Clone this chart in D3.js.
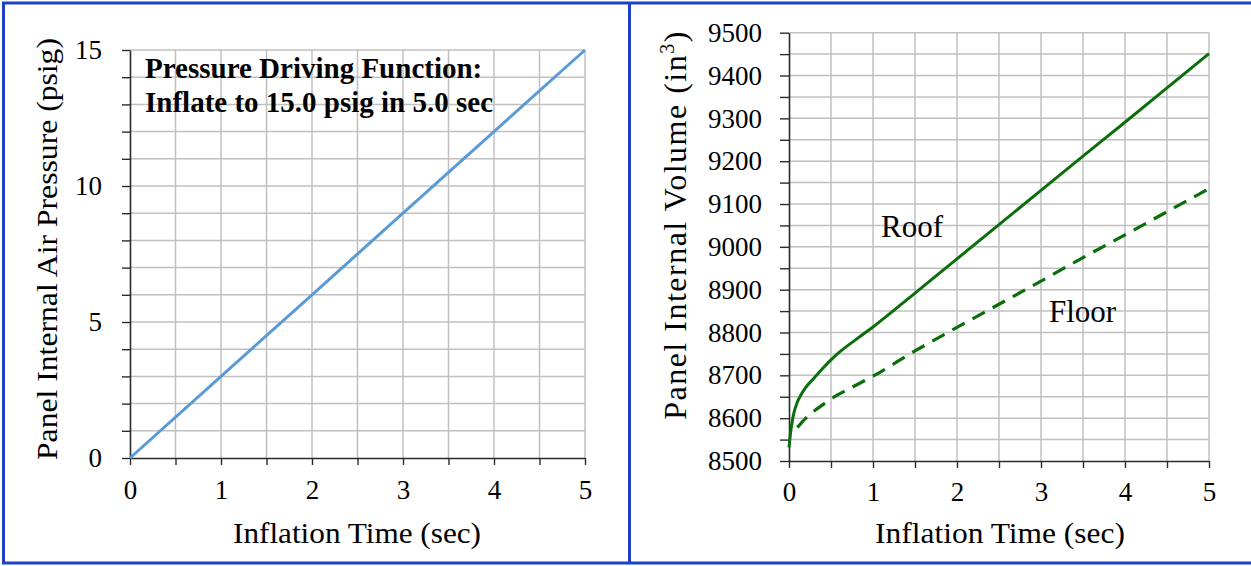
<!DOCTYPE html>
<html>
<head>
<meta charset="utf-8">
<script src="https://cdn.jsdelivr.net/npm/d3@7"></script>
<style>
  html, body { margin: 0; padding: 0; background: #fff; }
  svg { display: block; }
</style>
</head>
<body>
<svg id="chart" width="1251" height="566"></svg>
<script>
// ---- Data ----
// Pressure driving function (left panel)
const pressureTime = [0, 1, 2, 3, 4, 5];
const pressurePsig = [0, 3, 6, 9, 12, 15];

// Panel internal volume (right panel)
const roofTime   = [0, 0.02, 0.05, 0.1, 0.15, 0.2, 0.3, 0.4, 0.5, 0.6, 0.8, 1.0, 1.5, 2.0, 2.5, 3.0, 3.5, 4.0, 4.5, 5.0];
const roofVolume = [8532, 8568, 8605, 8638, 8657, 8672, 8694, 8716, 8736, 8754, 8784, 8813, 8892, 8972, 9052, 9132, 9212, 9291, 9371, 9451];
const floorTime   = [0.1, 0.2, 0.3, 0.4, 0.5, 0.75, 1.0, 1.5, 2.0, 2.5, 3.0, 3.5, 4.0, 4.5, 5.0];
const floorVolume = [8578, 8600, 8617, 8631, 8645, 8672, 8698, 8757, 8812, 8866, 8920, 8975, 9028, 9082, 9136];

// Axis ticks
const timeTicks = [0, 0.5, 1, 1.5, 2, 2.5, 3, 3.5, 4, 4.5, 5];
const pressureTicks = d3.range(0, 16, 1);
const volumeTicks = d3.range(8500, 9501, 50);

const SERIF = "'Liberation Serif', 'Times New Roman', serif";
const svg = d3.select("#chart");
const GRID = "#c0c0c0";
const AXIS = "#2b2b2b";

// ---- Outer frame ----
svg.append("rect")
  .attr("x", 3.5).attr("y", 3).attr("width", 1260).attr("height", 560)
  .attr("fill", "none").attr("stroke", "#1f3fc4").attr("stroke-width", 3);
svg.append("line")
  .attr("x1", 629.5).attr("x2", 629.5).attr("y1", 3).attr("y2", 563)
  .attr("stroke", "#1f3fc4").attr("stroke-width", 3);

function drawGrid(g, x, y, xt, yt) {
  const [x0, x1] = x.range();
  const [y0, y1] = y.range();
  g.append("g").selectAll("line").data(xt.filter(d => d > 0)).join("line")
    .attr("x1", d => x(d)).attr("x2", d => x(d))
    .attr("y1", y0).attr("y2", y1)
    .attr("stroke", GRID).attr("stroke-width", 1.5);
  g.append("g").selectAll("line").data(yt.filter(d => d > y.domain()[0])).join("line")
    .attr("x1", x0).attr("x2", x1)
    .attr("y1", d => y(d)).attr("y2", d => y(d))
    .attr("stroke", GRID).attr("stroke-width", 1.5);
}

function styleAxis(g, size) {
  g.attr("font-family", SERIF).attr("font-size", size);
  g.select(".domain").attr("stroke", AXIS).attr("stroke-width", 1.6);
  g.selectAll(".tick line").attr("stroke", AXIS).attr("stroke-width", 1.4);
  g.selectAll(".tick text")
    .attr("font-family", SERIF).attr("font-size", size).attr("fill", "#000");
}

function label(g, x, y, size, str, opts = {}) {
  const t = g.append("text")
    .attr("x", x).attr("y", y)
    .attr("font-family", SERIF).attr("font-size", size).attr("fill", "#000")
    .text(str);
  if (opts.anchor) t.attr("text-anchor", opts.anchor);
  if (opts.bold) t.attr("font-weight", "bold");
  if (opts.length) t.attr("textLength", opts.length).attr("lengthAdjust", "spacingAndGlyphs");
  return t;
}

// ---- Left panel: pressure ----
const xL = d3.scaleLinear().domain([0, 5]).range([130, 585]);
const yL = d3.scaleLinear().domain([0, 15]).range([458, 50]);
const left = svg.append("g");
drawGrid(left, xL, yL, timeTicks, pressureTicks);

left.append("g").attr("transform", `translate(0,${yL(0)})`)
  .call(d3.axisBottom(xL).tickValues(timeTicks)
    .tickFormat(d => Number.isInteger(d) ? d : "")
    .tickSize(7).tickSizeOuter(0).tickPadding(15))
  .call(g => styleAxis(g, 27));
left.append("g").attr("transform", `translate(${xL(0)},0)`)
  .call(d3.axisLeft(yL).tickValues(pressureTicks)
    .tickFormat(d => d % 5 === 0 ? d : "")
    .tickSize(8).tickSizeOuter(0).tickPadding(20))
  .call(g => styleAxis(g, 27));

left.append("path")
  .datum(pressureTime.map((t, i) => [t, pressurePsig[i]]))
  .attr("fill", "none").attr("stroke", "#5b9bd5").attr("stroke-width", 3)
  .attr("d", d3.line().x(d => xL(d[0])).y(d => yL(d[1])));

label(left, 145, 78, 29, "Pressure Driving Function:", { bold: true });
label(left, 145, 112, 29, "Inflate to 15.0 psig in 5.0 sec", { bold: true });

label(left, 357, 543, 30, "Inflation Time (sec)", { anchor: "middle", length: 248 });
label(left, 0, 0, 30, "Panel Internal Air Pressure (psig)", { anchor: "middle", length: 422 })
  .attr("transform", "translate(57,249) rotate(-90)");

// ---- Right panel: volume ----
const xR = d3.scaleLinear().domain([0, 5]).range([789, 1209]);
const yR = d3.scaleLinear().domain([8500, 9500]).range([461, 32.7]);
const right = svg.append("g");
drawGrid(right, xR, yR, timeTicks, volumeTicks);

right.append("g").attr("transform", `translate(0,${yR(8500)})`)
  .call(d3.axisBottom(xR).tickValues(timeTicks)
    .tickFormat(d => Number.isInteger(d) ? d : "")
    .tickSize(7).tickSizeOuter(0).tickPadding(14))
  .call(g => styleAxis(g, 27));
right.append("g").attr("transform", `translate(${xR(0)},0)`)
  .call(d3.axisLeft(yR).tickValues(volumeTicks)
    .tickFormat(d => d % 100 === 0 ? d : "")
    .tickSize(9).tickSizeOuter(0).tickPadding(18))
  .call(g => styleAxis(g, 27));

const volLine = d3.line().curve(d3.curveMonotoneX).x(d => xR(d[0])).y(d => yR(d[1]));
right.append("path")
  .datum(roofTime.map((t, i) => [t, roofVolume[i]]))
  .attr("fill", "none").attr("stroke", "#0a6e0a").attr("stroke-width", 3)
  .attr("d", volLine);
right.append("path")
  .datum(floorTime.map((t, i) => [t, floorVolume[i]]))
  .attr("fill", "none").attr("stroke", "#0a6e0a").attr("stroke-width", 3.2)
  .attr("stroke-dasharray", "14,9")
  .attr("d", volLine);

label(right, 881, 237, 31, "Roof");
label(right, 1049, 322, 31, "Floor");

label(right, 1000, 543, 30, "Inflation Time (sec)", { anchor: "middle", length: 250 });
const vt = right.append("text")
  .attr("transform", "translate(686,225) rotate(-90)")
  .attr("text-anchor", "middle")
  .attr("letter-spacing", 1.5)
  .attr("font-family", SERIF).attr("font-size", 32).attr("fill", "#000");
vt.append("tspan").text("Panel Internal Volume (in");
vt.append("tspan").attr("dy", -12).attr("font-size", 20).text("3");
vt.append("tspan").attr("dy", 12).text(")");
</script>
</body>
</html>
